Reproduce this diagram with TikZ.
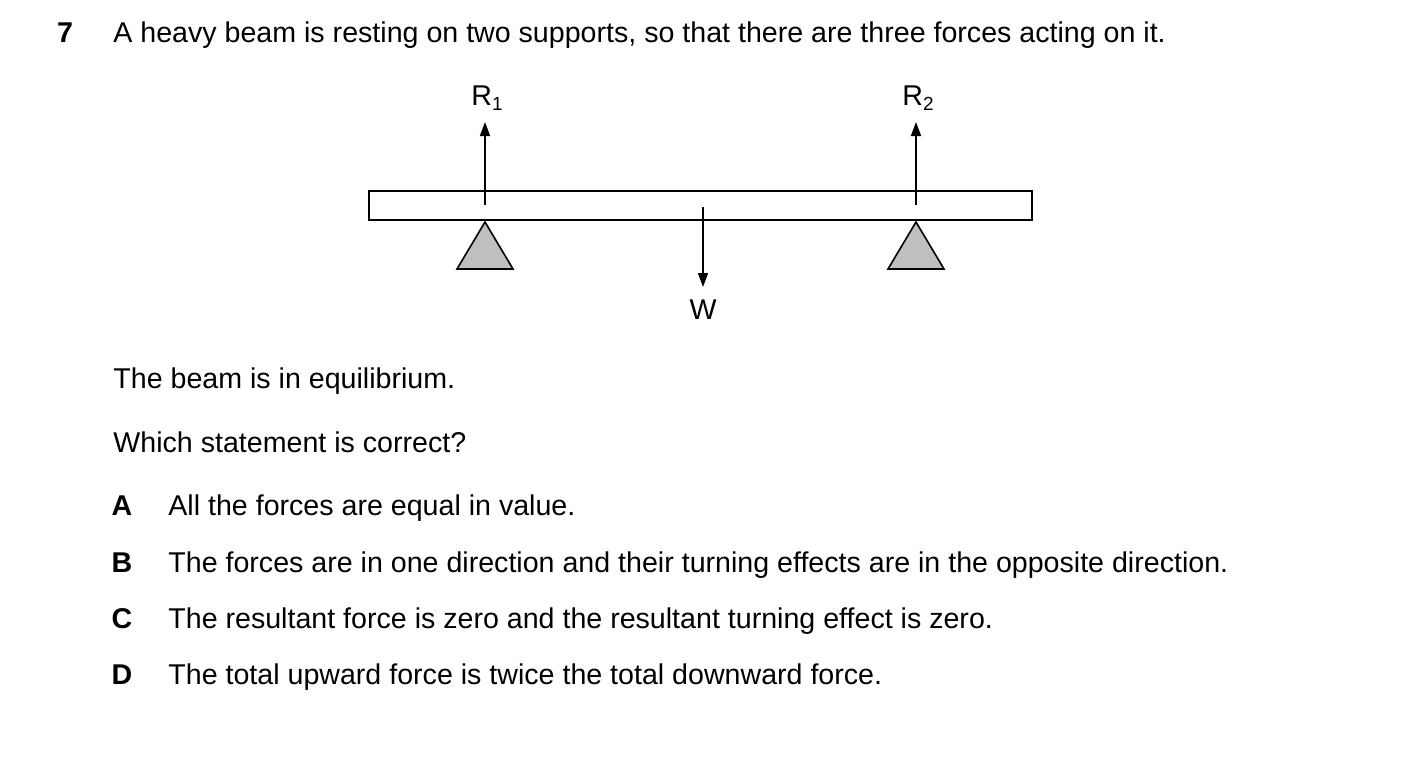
\documentclass[tikz,border=0pt]{standalone}
\usepackage{fontspec}
\setmainfont{Liberation Sans}
\usetikzlibrary{arrows.meta}
\newcommand{\lowsub}[1]{\raisebox{-0.35ex}{\fontsize{9.5}{10}\selectfont #1}}
\begin{document}
\begin{tikzpicture}[x=0.5pt,y=-0.5pt,
    txt/.style={anchor=base west, inner sep=0pt, font=\fontsize{14.3}{17}\selectfont},
    lbl/.style={inner sep=0pt, font=\fontsize{14.3}{17}\selectfont},
    bold/.style={anchor=base, inner sep=0pt, font=\fontsize{14.3}{17}\selectfont\bfseries},
    force/.style={line width=0.8pt, -{Triangle[length=7pt,width=5pt]}},
    support/.style={draw, line width=0.8pt, fill=gray!50}]
    \useasboundingbox (0,0) rectangle (1403,782);

    % question
    \node[bold] (num) at (65,42) {7};
    \node[txt] (q) at (113,42) {A heavy beam is resting on two supports, so that there are three forces acting on it.};

    % beam and supports
    \draw[line width=0.8pt] (369,191) rectangle (1032,220);
    \draw[support] (485,222) -- (457,269) -- (513,269) -- cycle;
    \draw[support] (916,222) -- (888,269) -- (944,269) -- cycle;

    % forces
    \coordinate (r1) at (485,205);
    \coordinate (r2) at (916,205);
    \coordinate (w) at (703,207);
    \node[lbl] (R1) at (487,98) {R\lowsub{1}};
    \node[lbl] (R2) at (918,98) {R\lowsub{2}};
    \node[lbl] (W) at (703,310) {W};
    \draw[force] (r1) -- (485,122);
    \draw[force] (r2) -- (916,122);
    \draw[force] (w) -- (703,287);

    % statements
    \node[txt] (eq) at (113,388) {The beam is in equilibrium.};
    \node[txt] (which) at (113,452) {Which statement is correct?};
    \foreach \l/\t/\y in {A/All the forces are equal in value./515,
        B/The forces are in one direction and their turning effects are in the opposite direction./572,
        C/The resultant force is zero and the resultant turning effect is zero./628,
        D/The total upward force is twice the total downward force./684}{
        \node[bold] (opt\l) at (122,\y) {\l};
        \node[txt] (text\l) at (168,\y) {\t};
    }
\end{tikzpicture}
\end{document}
